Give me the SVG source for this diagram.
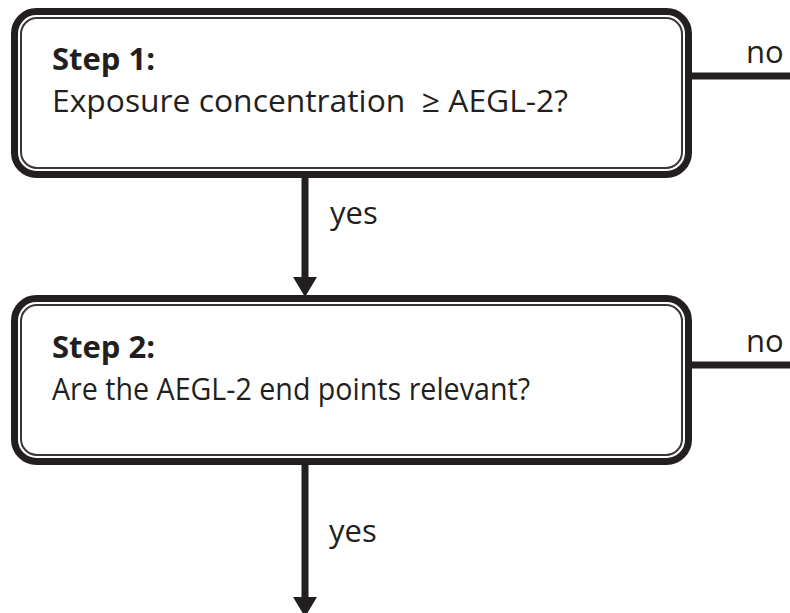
<svg xmlns="http://www.w3.org/2000/svg" width="790" height="613" viewBox="0 0 790 613">
<defs>
<style>
.outer{fill:#fff;stroke:#231f20;stroke-width:7}
.inner{fill:none;stroke:#3a3637;stroke-width:2}
.t{font-family:"Open Sans","Noto Sans",sans-serif;font-size:31px;fill:#231f20}
.b{font-weight:bold}
.lbl{font-family:"Open Sans","Noto Sans",sans-serif;font-size:31px;fill:#231f20}
.line{stroke:#231f20;stroke-width:7;fill:none}
</style>
</defs>
<rect width="790" height="613" fill="#fff"/>
<g id="connectors">
<line class="line" x1="692" y1="76" x2="790" y2="76"/>
<line class="line" x1="692" y1="365" x2="790" y2="365"/>
<line class="line" x1="305" y1="178" x2="305" y2="280"/>
<path d="M293,277 L317,277 L305,297 Z" fill="#231f20"/>
<line class="line" x1="305" y1="465" x2="305" y2="600"/>
<path d="M293,597 L317,597 L305,617 Z" fill="#231f20"/>
<text class="lbl" x="746" y="63">no</text>
<text class="lbl" x="746" y="352">no</text>
<text class="lbl" x="330" y="224">yes</text>
<text class="lbl" x="329" y="542">yes</text>
</g>
<g id="step1">
<rect class="outer" x="14.5" y="11.5" width="674" height="163" rx="22"/>
<rect class="inner" x="21" y="18" width="661" height="150" rx="16"/>
<text class="t b" x="52" y="70">Step 1:</text>
<text class="t" x="52" y="112" xml:space="preserve" textLength="516" lengthAdjust="spacingAndGlyphs">Exposure concentration  ≥ AEGL-2?</text>
</g>
<g id="step2">
<rect class="outer" x="14.5" y="298.5" width="674" height="163" rx="22"/>
<rect class="inner" x="21" y="305" width="661" height="150" rx="16"/>
<text class="t b" x="52" y="358">Step 2:</text>
<text class="t" x="52" y="400" textLength="478" lengthAdjust="spacingAndGlyphs">Are the AEGL-2 end points relevant?</text>
</g>
</svg>
